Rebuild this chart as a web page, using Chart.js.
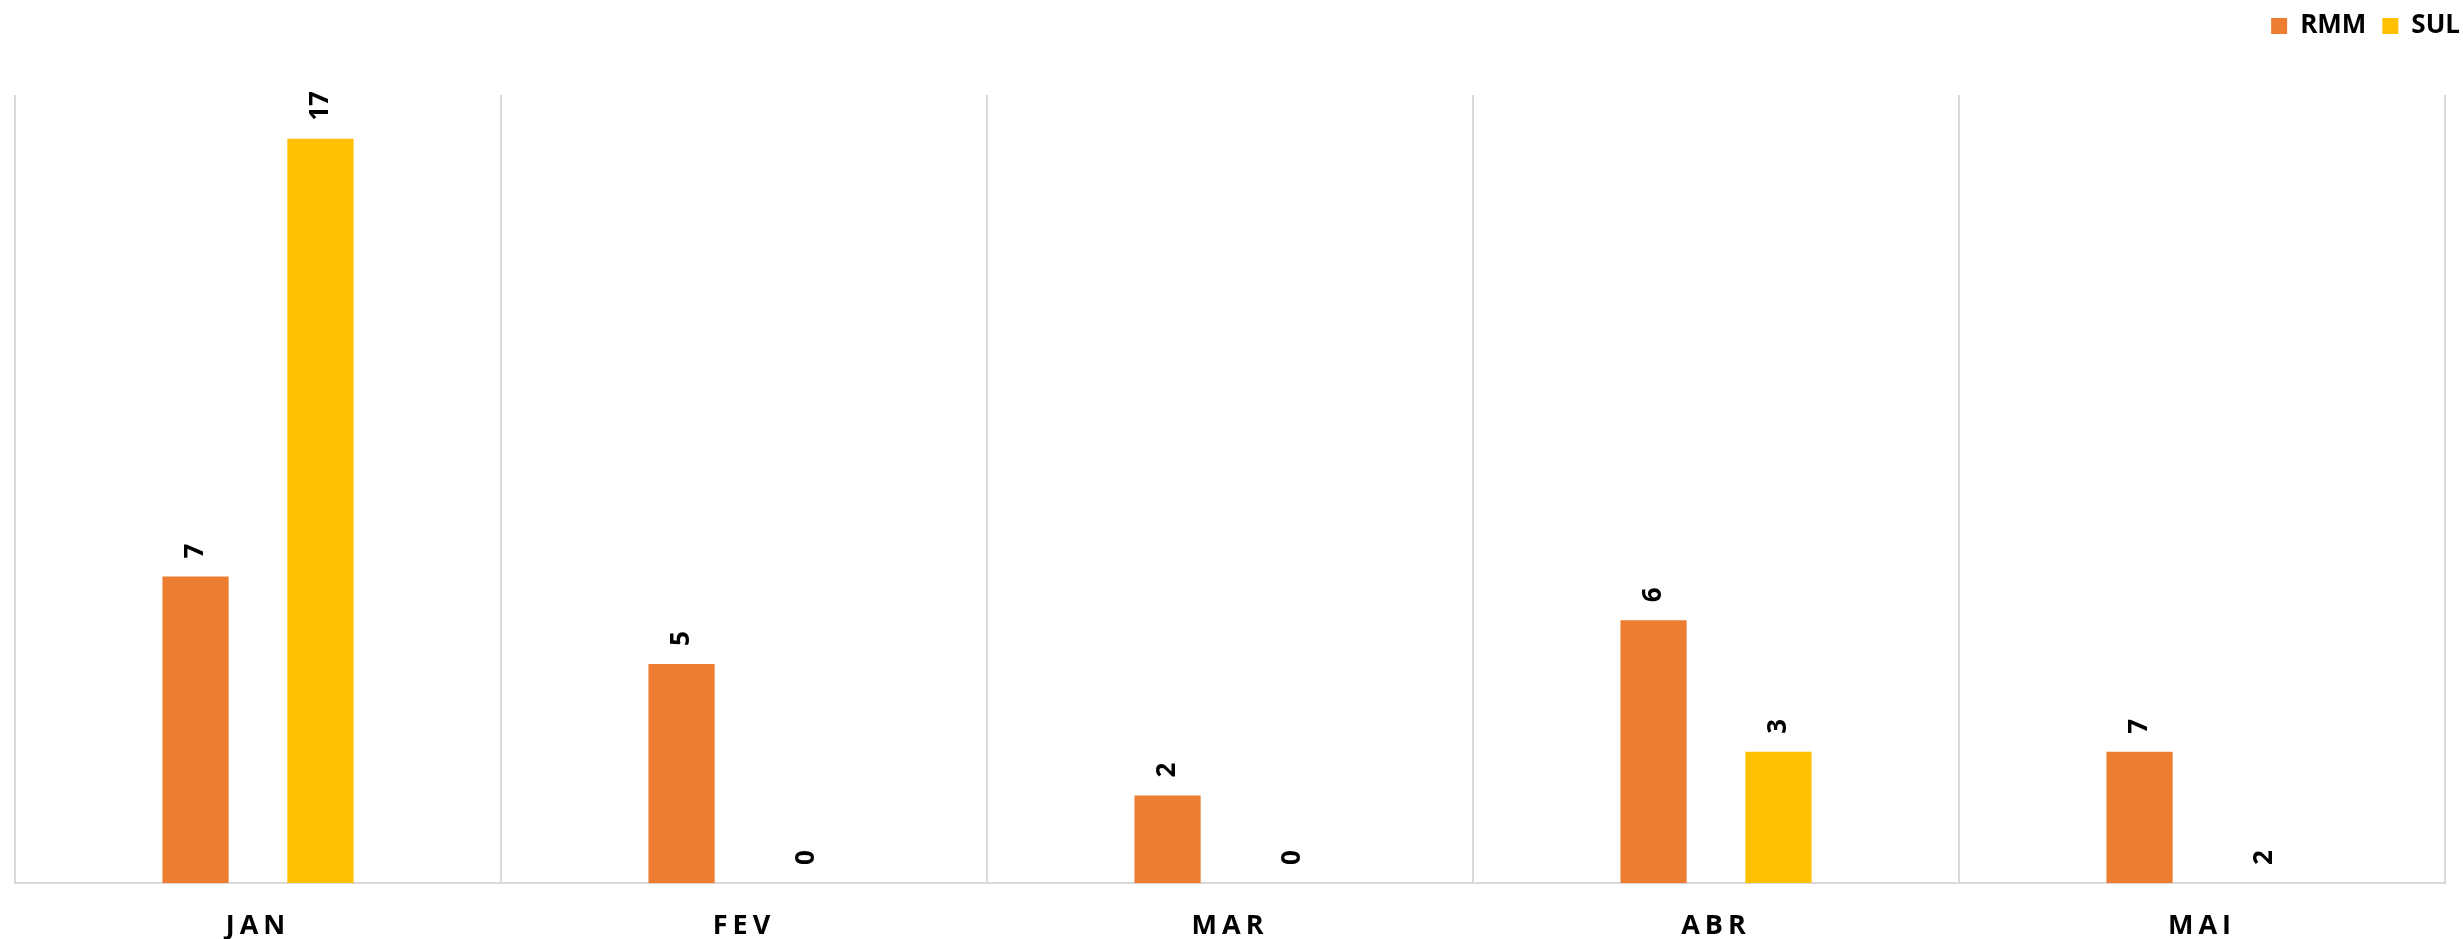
<!DOCTYPE html>
<html>
<head>
<meta charset="utf-8">
<script src="https://cdn.jsdelivr.net/npm/chart.js@4.4.1/dist/chart.umd.min.js"></script>
<style>
    body { margin: 0; background: #fff; }
    #wrap { width: 2463px; height: 939px; }
</style>
</head>
<body>
<div id="wrap"><canvas id="myChart"></canvas></div>
<script>
var meses = ['JAN', 'FEV', 'MAR', 'ABR', 'MAI'];
var rmmValores = [7, 5, 2, 6, 3];
var sulValores = [17, 0, 0, 3, 0];
// rotulos mostrados em cima das barras (como na planilha original)
var rmmRotulos = ['7', '5', '2', '6', '7'];
var sulRotulos = ['17', '0', '0', '3', '2'];

// eixo de categorias com espacamento entre letras
class SpacedCategory extends Chart.CategoryScale {
    drawLabels(area) {
        this.ctx.save();
        this.ctx.letterSpacing = '5px';
        super.drawLabels(area);
        this.ctx.restore();
    }
}
SpacedCategory.id = 'spacedCategory';
SpacedCategory.defaults = Chart.CategoryScale.defaults;
Chart.register(SpacedCategory);

var legendGap = {
    id: 'legendGap',
    beforeInit: function (chart) {
        var fit = chart.legend.fit;
        chart.legend.fit = function () {
            fit.bind(chart.legend)();
            this.height = 92;
        };
    },
    afterLayout: function (chart) {
        // legenda encostada no canto superior direito
        chart.legend.top = -3;
        chart.legend.right = chart.width + 13;
    }
};

var barLabels = {
    id: 'barLabels',
    afterDatasetsDraw: function (chart) {
        var ctx = chart.ctx;
        chart.data.datasets.forEach(function (ds, i) {
            chart.getDatasetMeta(i).data.forEach(function (bar, j) {
                ctx.save();
                ctx.translate(bar.x, bar.y - 18);
                ctx.rotate(-Math.PI / 2);
                ctx.font = 'bold 26px "Open Sans"';
                ctx.fillStyle = '#000';
                ctx.textAlign = 'left';
                ctx.textBaseline = 'middle';
                ctx.fillText(ds.rotulos[j], 0, 0);
                ctx.restore();
            });
        });
    }
};

window.onload = (function () {
    'use strict'
    var ctx = document.getElementById('myChart')
    var myChart = new Chart(ctx, {
        type: 'bar',
        data: {
            labels: meses,
            datasets: [{
                label: 'RMM',
                data: rmmValores,
                rotulos: rmmRotulos,
                backgroundColor: '#ED7D31',
                categoryPercentage: 0.514,
                barPercentage: 0.53
            }, {
                label: 'SUL',
                data: sulValores,
                rotulos: sulRotulos,
                backgroundColor: '#FFC000',
                categoryPercentage: 0.514,
                barPercentage: 0.53
            }]
        },
        plugins: [legendGap, barLabels],
        options: {
            responsive: true,
            maintainAspectRatio: false,
            devicePixelRatio: 1,
            animation: false,
            layout: {
                padding: { left: 15, right: 18, top: 3, bottom: 0 }
            },
            plugins: {
                legend: {
                    position: 'top',
                    align: 'end',
                    labels: {
                        boxWidth: 16,
                        boxHeight: 16,
                        padding: 16,
                        color: '#000',
                        font: { family: 'Open Sans', size: 26, weight: 'bold' }
                    }
                },
                tooltip: { enabled: false }
            },
            scales: {
                x: {
                    type: 'spacedCategory',
                    grid: {
                        color: '#d9d9d9',
                        lineWidth: 2,
                        drawTicks: false
                    },
                    border: { color: '#d9d9d9', width: 2 },
                    ticks: {
                        color: '#000',
                        padding: 27,
                        font: { family: 'Open Sans', size: 27, weight: 'bold' }
                    },
                    afterFit: function (scale) {
                        scale.height = 56;
                    }
                },
                y: {
                    display: false,
                    min: 0,
                    max: 18
                }
            }
        }
    })
}());
</script>
</body>
</html>
